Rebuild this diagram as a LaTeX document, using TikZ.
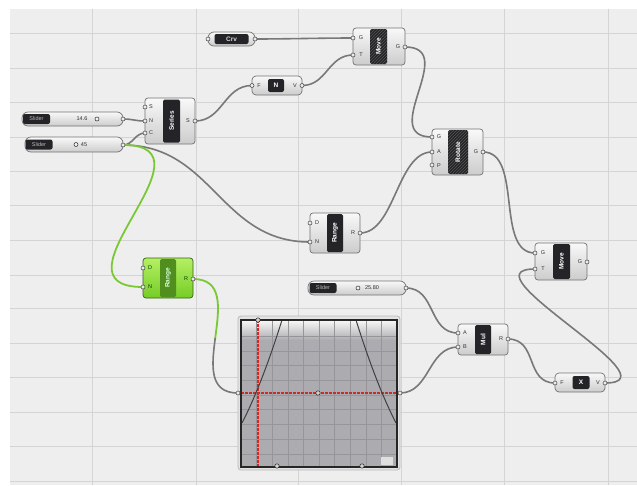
\documentclass[tikz,border=0pt]{standalone}
\usepackage{fontspec}
\setsansfont{Liberation Sans}
\usetikzlibrary{patterns}
\definecolor{canvas}{RGB}{238,238,238}
\definecolor{gridc}{RGB}{212,212,212}
\definecolor{wirec}{RGB}{120,120,120}
\definecolor{greenw}{RGB}{122,201,52}
\definecolor{gbodytop}{RGB}{180,240,100}
\definecolor{gbodybot}{RGB}{118,204,38}
\definecolor{gstrip}{RGB}{80,142,30}
\definecolor{stripc}{RGB}{36,36,40}
\definecolor{mapc}{RGB}{172,172,176}
\definecolor{edgec}{RGB}{115,115,115}
\definecolor{dashred}{RGB}{210,40,40}
\tikzset{
  comp/.style={draw=edgec, line width=0.7pt, rounded corners=3pt, top color=white!95!gray, bottom color=gray!40, inner sep=0pt},
  gcomp/.style={draw=gstrip!70!black, line width=0.7pt, rounded corners=3pt, top color=gbodytop, bottom color=gbodybot, inner sep=0pt},
  pill/.style={draw=edgec, line width=0.7pt, rounded corners=6pt, top color=white!95!gray, bottom color=gray!40, inner sep=0pt},
  stripbox/.style={fill=stripc, rounded corners=1.5pt, text=white, font=\sffamily\bfseries\fontsize{6.5}{7}\selectfont, rotate=90, inner sep=0pt},
  hatched/.style={path picture={\fill[pattern=north east lines, pattern color=gray!55!stripc] (path picture bounding box.south west) rectangle (path picture bounding box.north east);}},
  namebox/.style={fill=stripc, rounded corners=2pt, text=gray!30, font=\sffamily\bfseries\fontsize{6.5}{7}\selectfont, inner sep=0pt},
  sliderlab/.style={fill=stripc, rounded corners=2pt, text=gray!55, font=\sffamily\fontsize{5.5}{6}\selectfont, inner sep=0pt, minimum width=27pt, minimum height=10pt},
  valtext/.style={font=\sffamily\fontsize{5.5}{6}\selectfont, text=gray!35!black, inner sep=0pt},
  plab/.style={font=\sffamily\fontsize{5.5}{6}\selectfont, text=gray!40!black, inner sep=0pt},
  grip/.style={draw=black!75, fill=gray!15, line width=0.5pt},
  wire/.style={draw=wirec, line width=1.6pt},
  gwire/.style={draw=greenw, line width=1.8pt},
  knob/.style={draw=gray!30!black, line width=0.5pt, fill=gray!10},
  reddash/.style={dashred, dash pattern=on 2.5pt off 1.5pt, line width=1.1pt}
}
\begin{document}
\begin{tikzpicture}[x=1pt,y=-1pt]
\useasboundingbox (0,0) rectangle (637,485);
% canvas and grid
\fill[white] (0,0) rectangle (637,485);
\fill[canvas] (10,9) rectangle (637,485);
\foreach \gx in {92,196,298,401,504,608} \draw[gridc, line width=1pt] (\gx,9) -- (\gx,485);
\foreach \gy in {33,68,102,137,171,205,240,275,308,343,377,412,446,481} \draw[gridc, line width=1pt] (10,\gy) -- (637,\gy);

% port coordinates
\coordinate (crv-in) at (208,39);   \coordinate (crv-out) at (255,39);
\coordinate (neg-F) at (252,85.5);  \coordinate (neg-V) at (302,85.5);
\coordinate (mv1-G) at (353,38);    \coordinate (mv1-T) at (353,55);  \coordinate (mv1-out) at (405,47);
\coordinate (ser-S) at (145,107);   \coordinate (ser-N) at (145,121); \coordinate (ser-C) at (145,133); \coordinate (ser-out) at (195,121);
\coordinate (sl1-out) at (123,119); \coordinate (sl2-out) at (123,145); \coordinate (sl3-out) at (406,288);
\coordinate (rot-G) at (432,137);   \coordinate (rot-A) at (432,152); \coordinate (rot-P) at (432,165); \coordinate (rot-out) at (483,152);
\coordinate (rg1-D) at (310,223);   \coordinate (rg1-N) at (310,242); \coordinate (rg1-out) at (360,233);
\coordinate (rg2-D) at (143,268);   \coordinate (rg2-N) at (143,287); \coordinate (rg2-out) at (193,279);
\coordinate (mv2-G) at (535,253);   \coordinate (mv2-T) at (535,269); \coordinate (mv2-out) at (587,262);
\coordinate (mul-A) at (458,333);   \coordinate (mul-B) at (458,347); \coordinate (mul-out) at (508,339);
\coordinate (x-F) at (555,383);     \coordinate (x-V) at (605,383);
\coordinate (gm-in) at (238,393);   \coordinate (gm-out) at (400,393);

% wires
\draw[wire] (crv-out) .. controls +(30,0) and +(-30,0) .. (mv1-G);
\draw[wire] (neg-V) .. controls +(25,0) and +(-25,0) .. (mv1-T);
\draw[wire] (ser-out) .. controls +(28,0) and +(-28,0) .. (neg-F);
\draw[wire] (sl1-out) .. controls +(10,0) and +(-10,0) .. (ser-N);
\draw[wire] (sl2-out) .. controls +(10,0) and +(-10,0) .. (ser-C);
\draw[wire] (sl2-out) .. controls +(90,0) and +(-90,0) .. (rg1-N);
\draw[gwire] (sl2-out) .. controls +(100,0) and +(-100,0) .. (rg2-N);
\begin{scope}
  \clip (150,260) rectangle (260,338);
  \draw[gwire] (rg2-out) .. controls +(60,0) and +(-60,0) .. (gm-in);
\end{scope}
\begin{scope}
  \clip (150,338) rectangle (260,400);
  \draw[wire] (rg2-out) .. controls +(60,0) and +(-60,0) .. (gm-in);
\end{scope}
\draw[wire] (rg1-out) .. controls +(35,0) and +(-35,0) .. (rot-A);
\draw[wire] (mv1-out) .. controls +(55,0) and +(-55,0) .. (rot-G);
\draw[wire] (rot-out) .. controls +(40,0) and +(-40,0) .. (mv2-G);
\draw[wire] (sl3-out) .. controls +(30,0) and +(-30,0) .. (mul-A);
\draw[wire] (gm-out) .. controls +(30,0) and +(-30,0) .. (mul-B);
\draw[wire] (mul-out) .. controls +(30,0) and +(-30,0) .. (x-F);
\draw[wire] (x-V) .. controls +(75,0) and +(-75,0) .. (mv2-T);

% Crv parameter
\node[pill, minimum width=47pt, minimum height=14pt] (crv) at (231.5,39) {};
\node[namebox, minimum width=34pt, minimum height=10pt] (crv-name) at (231.5,39) {Crv};

% Negative
\node[pill, rounded corners=4pt, minimum width=50pt, minimum height=19pt] (neg) at (277,85.5) {};
\node[namebox, minimum width=16pt, minimum height=13pt, text=white] (neg-name) at (276,85.5) {N};
\node[plab] (neg-lF) at (259,85.5) {F};
\node[plab] (neg-lV) at (295,85.5) {V};

% Move 1
\node[comp, minimum width=52pt, minimum height=37pt] (mv1) at (379,46.5) {};
\node[stripbox, hatched, minimum width=35pt, minimum height=17pt] (mv1-name) at (378.5,46.5) {Move};
\node[plab] (mv1-lG) at (361,38) {G};
\node[plab] (mv1-lT) at (361,55) {T};
\node[plab] (mv1-lO) at (398,47) {G};

% Series
\node[comp, minimum width=50pt, minimum height=46pt] (ser) at (170,121) {};
\node[stripbox, minimum width=43pt, minimum height=17pt] (ser-name) at (171.5,121) {Series};
\node[plab] (ser-lS) at (151,107) {S};
\node[plab] (ser-lN) at (151,121) {N};
\node[plab] (ser-lC) at (151,133) {C};
\node[plab] (ser-lO) at (188,121) {S};

% Sliders
\node[pill, minimum width=101pt, minimum height=14pt] (sl1) at (72.5,119) {};
\node[sliderlab] (sl1-lab) at (36.5,119) {Slider};
\node[valtext] (sl1-val) at (82,119) {14.6};
\draw[knob] (97,119) circle (2);
\node[pill, minimum width=98pt, minimum height=15pt] (sl2) at (74,144.5) {};
\node[sliderlab] (sl2-lab) at (39,144.5) {Slider};
\node[valtext] (sl2-val) at (84,144.5) {45};
\draw[knob] (76,144.5) circle (2);
\node[pill, minimum width=98pt, minimum height=14pt] (sl3) at (357,288) {};
\node[sliderlab] (sl3-lab) at (323,288) {Slider};
\node[valtext] (sl3-val) at (372,288) {25.80};
\draw[knob] (358,288) circle (2);

% Rotate
\node[comp, minimum width=51pt, minimum height=46pt] (rot) at (457.5,152) {};
\node[stripbox, hatched, minimum width=44pt, minimum height=20pt] (rot-name) at (458,152) {Rotate};
\node[plab] (rot-lG) at (439,137) {G};
\node[plab] (rot-lA) at (439,152) {A};
\node[plab] (rot-lP) at (439,166) {P};
\node[plab] (rot-lO) at (476,152) {G};

% Range 1
\node[comp, minimum width=50pt, minimum height=40pt] (rg1) at (335,233) {};
\node[stripbox, minimum width=38pt, minimum height=16pt] (rg1-name) at (335,233) {Range};
\node[plab] (rg1-lD) at (317,223) {D};
\node[plab] (rg1-lN) at (317,242) {N};
\node[plab] (rg1-lO) at (353,233) {R};

% Range 2 (selected, green)
\node[gcomp, minimum width=50pt, minimum height=40pt] (rg2) at (168,278) {};
\node[stripbox, fill=gstrip, text=white!85!green, minimum width=38pt, minimum height=16pt] (rg2-name) at (168,278) {Range};
\node[plab, text=green!25!black] (rg2-lD) at (150,268) {D};
\node[plab, text=green!25!black] (rg2-lN) at (150,287) {N};
\node[plab, text=green!25!black] (rg2-lO) at (186,279) {R};

% Move 2
\node[comp, minimum width=52pt, minimum height=37pt] (mv2) at (561,261.5) {};
\node[stripbox, minimum width=35pt, minimum height=17pt] (mv2-name) at (561.5,261.5) {Move};
\node[plab] (mv2-lG) at (543,253) {G};
\node[plab] (mv2-lT) at (543,269) {T};
\node[plab] (mv2-lO) at (580,262) {G};

% Multiplication
\node[comp, minimum width=50pt, minimum height=31pt] (mul) at (483,339.5) {};
\node[stripbox, minimum width=29pt, minimum height=16pt] (mul-name) at (483,339.5) {Mul};
\node[plab] (mul-lA) at (465,333) {A};
\node[plab] (mul-lB) at (465,347) {B};
\node[plab] (mul-lO) at (501,339) {R};

% X function
\node[pill, rounded corners=4pt, minimum width=50pt, minimum height=19pt] (xf) at (580,382.5) {};
\node[namebox, minimum width=17pt, minimum height=13pt, text=white] (xf-name) at (581,382.5) {X};
\node[plab] (xf-lF) at (562,383) {F};
\node[plab] (xf-lV) at (598,383) {V};

% Graph mapper
\node[draw=gray!55, fill=gray!22, rounded corners=3pt, line width=0.8pt, minimum width=162pt, minimum height=154pt, inner sep=0pt] (gm) at (319,393) {};
\fill[mapc] (241,320) rectangle (397,467);
\shade[top color=white!95!gray, bottom color=mapc] (241,320) rectangle (397,340);
\begin{scope}
  \clip (241,320) rectangle (397,467);
  \foreach \k in {1,...,9} {
    \draw[gray!50!mapc, line width=0.5pt] (241+15.6*\k,320) -- (241+15.6*\k,467);
    \draw[gray!50!mapc, line width=0.5pt] (241,321.5+14.7*\k) -- (397,321.5+14.7*\k);
  }
  \draw[reddash] (258,320) -- (258,467);
  \draw[reddash] (241,393) -- (397,393);
  \draw[black!75, line width=1pt] (282,320) .. controls (272,352) and (258,392) .. (242,423);
  \draw[black!75, line width=1pt] (356,320) .. controls (366,352) and (380,392) .. (396,423);
  \fill[gray!25] (381,457) rectangle (393,465);
\end{scope}
\draw[black!85, line width=2.2pt] (241,320) rectangle (397,467);
\foreach \p in {(258,320),(318,393),(277,466),(362,466)} \draw[knob, fill=gray!35] \p circle (2.2);

% grips
\foreach \c in {crv-in,crv-out,neg-F,neg-V,mv1-G,mv1-T,mv1-out,ser-S,ser-N,ser-C,ser-out,sl1-out,sl2-out,sl3-out,rot-G,rot-A,rot-P,rot-out,rg1-D,rg1-N,rg1-out,rg2-D,rg2-N,rg2-out,mv2-G,mv2-T,mv2-out,mul-A,mul-B,mul-out,x-F,x-V,gm-in,gm-out}
  \draw[grip] (\c) circle (2);
\end{tikzpicture}
\end{document}
